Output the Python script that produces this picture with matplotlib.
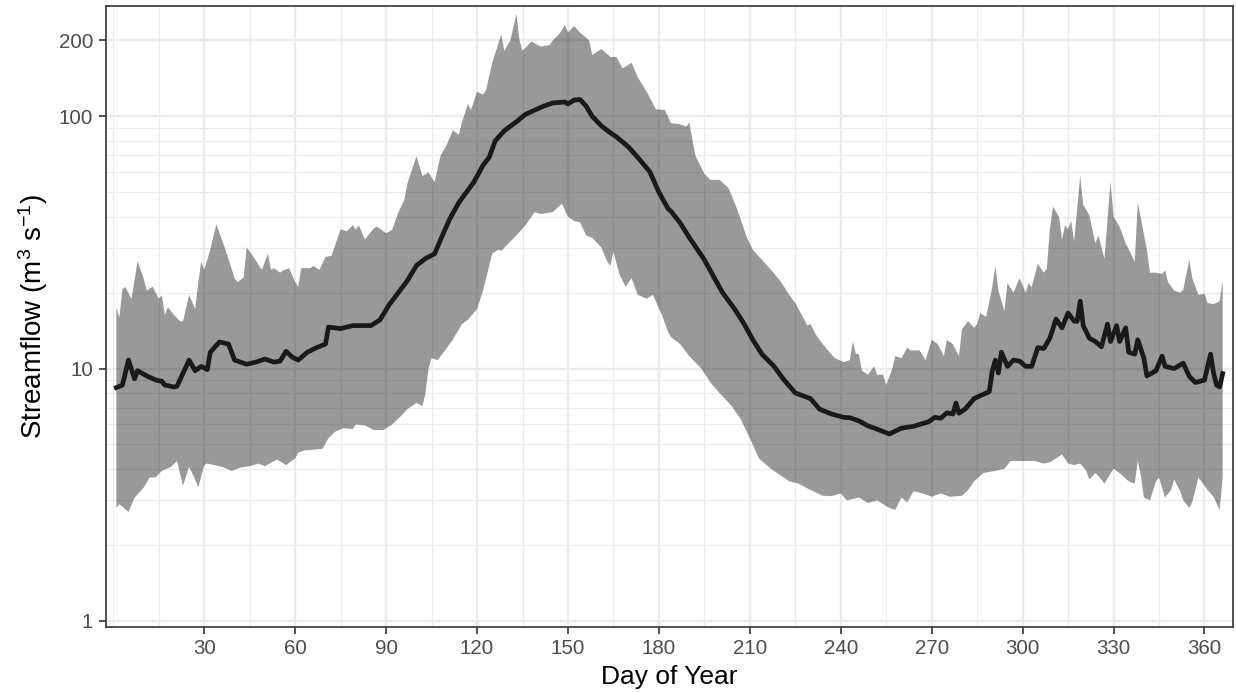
import numpy as np
import matplotlib
matplotlib.use("Agg")
import matplotlib.pyplot as plt
from matplotlib.ticker import FixedLocator, NullFormatter

plt.rcParams["font.family"] = ["Liberation Sans", "DejaVu Sans"]
plt.rcParams["mathtext.fontset"] = "custom"
plt.rcParams["mathtext.rm"] = "Liberation Sans"
plt.rcParams["mathtext.it"] = "Liberation Sans:italic"
plt.rcParams["mathtext.default"] = "regular"

# median daily streamflow (m3/s)
med_day = [1, 3, 5, 7, 8, 11, 14, 16, 17, 20, 21, 25, 27, 29, 31, 32, 35, 38, 40, 44,
           47, 50, 53, 55, 57, 59, 61, 64, 67, 70, 71, 75, 79, 85, 88, 91, 95, 97, 100, 103,
           106, 108, 111, 114, 119, 122, 124, 126, 129, 133, 136, 139, 142, 145, 149, 150, 152, 154, 156, 158,
           161, 164, 166, 170, 173, 177, 180, 183, 184, 187, 190, 195, 198, 201, 205, 208, 211, 214, 218, 221,
           225, 230, 233, 237, 241, 243, 246, 249, 252, 256, 260, 264, 269, 271, 273, 275, 277, 278, 279, 281,
           284, 286, 289, 290, 291, 292, 293, 295, 297, 299, 301, 303, 305, 307, 308, 309, 311, 313, 315, 317,
           318, 319, 320, 322, 324, 326, 328, 329, 331, 332, 334, 335, 337, 338, 340, 341, 344, 346, 347, 350,
           353, 355, 357, 360, 362, 363, 364, 365, 366]
med_val = [8.4, 8.6, 10.8, 9.1, 9.8, 9.35, 9.0, 8.9, 8.6, 8.45, 8.5, 10.8, 9.8, 10.2, 9.9, 11.6, 12.75, 12.5, 10.8, 10.4,
           10.6, 10.9, 10.6, 10.7, 11.7, 11.1, 10.8, 11.6, 12.1, 12.5, 14.6, 14.4, 14.8, 14.8, 15.6, 17.9, 20.7, 22.3, 25.6, 27.3,
           28.5, 32.5, 39.2, 45.5, 55, 64, 68.8, 79.9, 87.7, 95.2, 101.9, 105.8, 109.8, 113, 114, 112, 116, 116.6, 109.8, 100,
           91.7, 86, 82.9, 75.5, 68.8, 60.3, 50, 43.1, 42, 37.8, 33.1, 27, 23.2, 20, 17.2, 15.1, 13, 11.4, 10.2, 9.1,
           8.0, 7.6, 6.9, 6.6, 6.4, 6.38, 6.2, 5.92, 5.75, 5.5, 5.8, 5.9, 6.15, 6.4, 6.35, 6.67, 6.6, 7.3, 6.65, 6.9,
           7.6, 7.8, 8.1, 9.8, 10.8, 9.6, 11.6, 10.2, 10.8, 10.7, 10.2, 10.2, 12.1, 12.0, 12.6, 13.2, 15.7, 14.5, 16.6, 15.4,
           15.4, 18.5, 14.8, 13.2, 12.8, 12.2, 15.0, 12.8, 14.8, 12.8, 14.5, 11.6, 11.4, 13.0, 11.0, 9.35, 9.8, 11.2, 10.2, 10.0,
           10.5, 9.3, 8.8, 9.0, 11.4, 9.6, 8.6, 8.45, 9.55]

# upper envelope of the ribbon
up_day = [1, 2, 3, 4, 6, 8, 10, 11, 13, 15, 16, 17, 18, 20, 22, 23, 25, 27, 28, 29,
          30, 32, 34, 37, 40, 41, 43, 44, 46, 49, 51, 52, 53, 55, 56, 58, 60, 61, 62, 65,
          66, 68, 70, 72, 75, 77, 79, 80, 81, 83, 86, 87, 90, 92, 94, 96, 97, 100, 102, 104,
          106, 108, 110, 112, 114, 115, 117, 118, 120, 122, 123, 125, 128, 129, 131, 133, 134, 135, 138, 141,
          144, 145, 147, 149, 150, 152, 154, 157, 158, 161, 164, 166, 168, 171, 173, 176, 179, 182, 184, 187,
          189, 190, 192, 195, 197, 200, 203, 206, 209, 211, 214, 217, 220, 223, 225, 229, 230, 232, 235, 238,
          241, 243, 244, 245, 246, 247, 249, 251, 252, 254, 255, 257, 258, 260, 262, 263, 266, 268, 270, 272,
          274, 275, 277, 279, 280, 282, 284, 285, 286, 288, 290, 291, 292, 294, 295, 297, 299, 301, 302, 303,
          305, 307, 308, 309, 310, 312, 313, 314, 315, 316, 317, 319, 320, 322, 324, 325, 327, 329, 330, 332,
          334, 337, 338, 341, 342, 344, 346, 347, 348, 350, 352, 353, 355, 356, 358, 360, 361, 363, 365, 366]
up_val = [17.5, 15.9, 20.7, 21, 18.9, 26.6, 22.8, 20.4, 21.1, 18.9, 19.5, 16.3, 17.5, 16.3, 15.4, 15.4, 19.6, 17.2, 21.8, 26.5,
          24.6, 29.6, 37.3, 29.6, 22.8, 22, 23, 30.2, 28, 24.6, 28.5, 24.6, 25, 24, 24.5, 25, 22, 21.1, 25, 25,
          25.5, 24.6, 27.7, 28, 35.7, 35, 37, 35.5, 37, 32.5, 36, 36.5, 34.4, 35.5, 41.5, 46.5, 53.9, 69.5, 58, 60,
          54.8, 70, 77, 88, 84.5, 94.5, 112, 106, 125, 122, 127.5, 162.8, 211, 182, 200, 255, 200, 182, 198, 189,
          192, 200, 211, 230, 215, 228, 215, 200, 175, 185, 172, 172, 155, 163, 143, 125, 106.6, 106, 94, 93,
          91, 94.5, 70.1, 59.2, 56, 56, 51.9, 42.3, 33.1, 29.6, 27, 24.6, 22.3, 19.6, 18.2, 14.8, 15, 13.5, 12.1, 11,
          10.6, 10.8, 12.8, 11.4, 11.4, 9.8, 9.45, 10.2, 9.45, 9.45, 8.6, 10, 11.2, 11, 12.1, 11.8, 11.8, 10.8, 13, 12.5,
          11.2, 13, 12.5, 11.2, 14.3, 15.4, 14.5, 15, 16.6, 16, 21.1, 25.5, 20.4, 16.9, 21.8, 20, 22.8, 20, 21.8, 21,
          26, 24, 25, 35.7, 43.8, 40, 32.5, 37, 35.7, 38.5, 31.9, 58, 44.6, 40.6, 31.4, 33.7, 27.3, 55, 40, 36.5,
          31.4, 26.5, 45.5, 29.6, 24, 24, 23.7, 24.5, 22, 20.4, 20, 20.5, 27, 22.8, 19.6, 19.8, 18.2, 18, 18.5, 22.4]

# lower envelope of the ribbon
lo_day = [1, 2, 5, 7, 10, 12, 14, 16, 19, 21, 23, 25, 27, 28, 30, 31, 33, 36, 39, 42,
          45, 48, 50, 54, 57, 60, 61, 63, 69, 71, 73, 76, 79, 80, 83, 86, 89, 92, 95, 97,
          100, 102, 103, 104, 105, 107, 109, 112, 115, 117, 120, 122, 123, 125, 127, 128, 131, 133, 136, 139,
          141, 145, 148, 150, 152, 154, 156, 158, 161, 163, 164, 165, 167, 169, 171, 173, 176, 178, 181, 183,
          184, 187, 190, 194, 197, 200, 204, 207, 210, 213, 217, 220, 223, 226, 230, 234, 237, 240, 242, 246,
          249, 252, 256, 258, 260, 262, 264, 267, 270, 273, 276, 280, 282, 284, 287, 291, 294, 296, 300, 304,
          307, 309, 311, 313, 315, 317, 319, 321, 322, 324, 325, 327, 330, 332, 335, 337, 338, 339, 340, 342,
          344, 345, 347, 349, 350, 352, 353, 355, 356, 358, 361, 363, 365, 366]
lo_val = [2.8, 2.9, 2.7, 3.07, 3.37, 3.7, 3.7, 3.93, 4.07, 4.3, 3.43, 4.07, 3.63, 3.37, 4.14, 4.2, 4.15, 4.07, 3.93, 4.05,
          4.1, 4.2, 4.1, 4.36, 4.14, 4.4, 4.64, 4.73, 4.8, 5.3, 5.6, 5.8, 5.75, 6.0, 5.95, 5.7, 5.7, 6.0, 6.5, 6.9,
          7.3, 7.1, 8.0, 10, 11, 10.8, 11.6, 13, 15, 15.6, 17.2, 20.4, 22.8, 28.5, 29.6, 29.3, 31.9, 33.7, 37, 41.7,
          41, 41.7, 45, 40, 38.5, 38, 33.7, 33, 30.2, 26.5, 25.5, 29, 23.6, 21.1, 22.8, 19.6, 18.9, 19.6, 16.3, 14,
          13.3, 12.5, 11.2, 10, 8.8, 8.0, 7.1, 6.3, 5.3, 4.4, 4.0, 3.78, 3.57, 3.5, 3.3, 3.13, 3.12, 3.2, 3.0, 3.08,
          2.93, 3.0, 2.8, 2.75, 3.08, 2.95, 3.26, 3.2, 3.1, 3.2, 3.1, 3.13, 3.3, 3.57, 3.85, 3.93, 4.0, 4.3, 4.3, 4.3,
          4.2, 4.25, 4.4, 4.56, 4.2, 4.14, 4.2, 3.93, 3.63, 3.85, 3.75, 3.5, 4.0, 3.85, 3.57, 3.5, 4.3, 3.78, 3.08, 3.0,
          3.57, 3.7, 3.08, 3.3, 3.63, 3.26, 3.0, 2.8, 2.96, 3.7, 3.3, 3.1, 2.75, 3.7]

x_major = list(range(30, 361, 30))
x_minor = [0] + list(range(15, 360, 30))
y_major = [1, 10, 100, 200]
y_minor = [2, 3, 4, 5, 6, 7, 8, 9, 20, 30, 40, 50, 60, 70, 80, 90]

grid_col = "#EBEBEB"
dark = "#333333"

fig = plt.figure(figsize=(12.36, 6.92), dpi=100)
ax = fig.add_axes([0.0858, 0.0944, 0.9115, 0.8969])

# ribbon as polygon: upper forward, lower back
poly_x = np.concatenate([up_day, lo_day[::-1]])
poly_y = np.concatenate([up_val, lo_val[::-1]])
ax.fill(poly_x, poly_y, color="black", alpha=0.4, linewidth=0, zorder=2)
ax.plot(med_day, med_val, color="#1A1A1A", linewidth=3.4, solid_joinstyle="round", zorder=3)

ax.set_yscale("log")
ax.set_xlim(-2.4, 369.3)
ax.set_ylim(0.947, 273.8)

ax.xaxis.set_major_locator(FixedLocator(x_major))
ax.xaxis.set_minor_locator(FixedLocator(x_minor))
ax.yaxis.set_major_locator(FixedLocator(y_major))
ax.yaxis.set_minor_locator(FixedLocator(y_minor))
ax.set_xticklabels([str(v) for v in x_major])
ax.set_yticklabels([str(v) for v in y_major])
ax.xaxis.set_minor_formatter(NullFormatter())
ax.yaxis.set_minor_formatter(NullFormatter())

ax.grid(which="major", color=grid_col, linewidth=1.7, zorder=0)
ax.grid(which="minor", color=grid_col, linewidth=0.9, zorder=0)
ax.set_axisbelow(True)

ax.tick_params(which="major", length=4.7, width=1.2, color=dark, labelsize=14.8,
               labelcolor="#4D4D4D", pad=4.5)
ax.tick_params(which="minor", length=0)

for s in ax.spines.values():
    s.set_color(dark)
    s.set_linewidth(1.2)

ax.set_xlabel("Day of Year", fontsize=19, color="black", va="center")
ax.set_ylabel(r"Streamflow (m$^{3}$ s$^{-1}$)", fontsize=20, color="black", va="center")
ax.xaxis.set_label_coords(0.5, -0.081)
ax.yaxis.set_label_coords(-0.0644, 0.50)

fig.savefig("out.png", dpi=100, facecolor="white")
